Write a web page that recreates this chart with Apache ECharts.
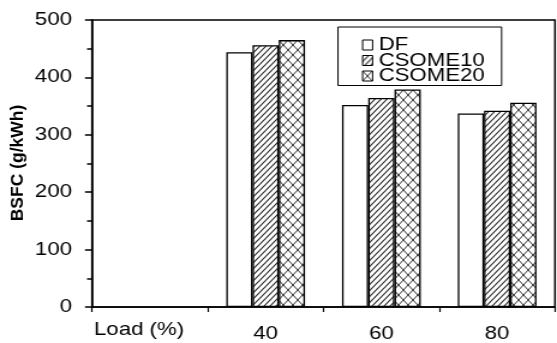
<!DOCTYPE html>
<html>
<head>
<meta charset="utf-8">
<script src="https://cdn.jsdelivr.net/npm/echarts@6/dist/echarts.min.js"></script>
<style>
  html, body { margin: 0; padding: 0; background: #fff; overflow: hidden; }
  #wrap { width: 557px; height: 343px; overflow: hidden; }
  /* the figure uses wide, horizontally stretched lettering: draw narrower and stretch */
  #chart { width: 464px; height: 343px; transform-origin: 0 0; }
</style>
</head>
<body>
<div id="wrap"><div id="chart"></div></div>
<script>
// Engine load categories (first slot is left empty on the axis)
const loads = ['', '40', '60', '80'];
// Brake specific fuel consumption, g/kWh
const dfValues = [null, 444, 352, 337];
const csome10Values = [null, 456, 364, 342];
const csome20Values = [null, 465, 379, 356];
const seriesNames = ['DF', 'CSOME10', 'CSOME20'];
const yTicks = [0, 100, 200, 300, 400, 500];

const W = 464, H = 343, SX = 557 / W;
const chartEl = document.getElementById('chart');
chartEl.style.transform = 'scaleX(' + SX + ')';

const FONT = "'Liberation Sans', Arial, Helvetica, sans-serif";
const FS = 18.5;

// single diagonal hatch "/"
function hatchTile() {
  const w = 5, h = 6;
  const c = document.createElement('canvas');
  c.width = w; c.height = h;
  const g = c.getContext('2d');
  g.fillStyle = '#fff'; g.fillRect(0, 0, w, h);
  g.strokeStyle = '#222'; g.lineWidth = 1.1;
  g.beginPath();
  g.moveTo(-w, 2 * h); g.lineTo(2 * w, -h);
  g.moveTo(-2 * w, 2 * h); g.lineTo(w, -h);
  g.moveTo(0, 2 * h); g.lineTo(3 * w, -h);
  g.stroke();
  return c;
}
// diagonal cross hatch "X"
function crossTile() {
  const w = 8, h = 10;
  const c = document.createElement('canvas');
  c.width = w; c.height = h;
  const g = c.getContext('2d');
  g.fillStyle = '#fff'; g.fillRect(0, 0, w, h);
  g.strokeStyle = '#333'; g.lineWidth = 1;
  g.beginPath();
  g.moveTo(-w, 2 * h); g.lineTo(2 * w, -h);
  g.moveTo(-w, -h); g.lineTo(2 * w, 2 * h);
  g.stroke();
  return c;
}

const fills = [
  '#ffffff',
  { image: hatchTile(), repeat: 'repeat' },
  { image: crossTile(), repeat: 'repeat' }
];
const values = [dfValues, csome10Values, csome20Values];

const chart = echarts.init(chartEl, null, { renderer: 'canvas', width: W, height: H });

chart.setOption({
  animation: false,
  backgroundColor: '#fff',
  textStyle: { fontFamily: FONT, color: '#000' },
  grid: {
    left: 92 / SX, right: W - 555 / SX, top: 20, bottom: 33,
    show: true, borderColor: '#000', borderWidth: 1.5, backgroundColor: 'transparent'
  },
  legend: {
    orient: 'vertical',
    left: 338 / SX, top: 27,
    padding: [8.5, 14, 0, 20],
    itemGap: -3.5,
    itemWidth: 10 / SX, itemHeight: 10,
    borderColor: '#000', borderWidth: 1,
    backgroundColor: '#fff',
    data: seriesNames,
    icon: 'rect',
    itemStyle: { borderColor: '#000', borderWidth: 1 },
    textStyle: { fontFamily: FONT, fontSize: FS, color: '#000' }
  },
  xAxis: {
    type: 'category',
    data: loads,
    boundaryGap: true,
    name: 'Load (%)',
    nameLocation: 'start',
    nameGap: -2 / SX,
    nameTextStyle: { fontFamily: FONT, fontSize: FS, color: '#000', align: 'left', verticalAlign: 'top', padding: [13.5, 0, 0, 0] },
    axisLine: { show: true, lineStyle: { color: '#000', width: 1.5 } },
    axisTick: { show: true, inside: false, length: 5, lineStyle: { color: '#000', width: 1.2 } },
    axisLabel: { margin: 17, fontFamily: FONT, fontSize: FS, color: '#000', interval: 0 },
    splitLine: { show: false }
  },
  yAxis: {
    type: 'value',
    min: yTicks[0], max: yTicks[yTicks.length - 1], interval: 100,
    axisLine: { show: true, lineStyle: { color: '#000', width: 1.5 } },
    axisTick: { show: true, inside: false, length: 7 / SX, lineStyle: { color: '#000', width: 1.5 } },
    minorTick: { show: true, splitNumber: 2, length: 5 / SX, lineStyle: { color: '#000', width: 1.5 } },
    axisLabel: { margin: 20 / SX, fontFamily: FONT, fontSize: FS, color: '#000' },
    splitLine: { show: false }
  },
  graphic: [{
    type: 'text',
    x: 18 / SX, y: 163,
    rotation: Math.PI / 2,
    scaleY: 1 / SX,
    style: {
      text: 'BSFC (g/kWh)',
      font: 'bold 17.5px ' + FONT,
      fill: '#000',
      align: 'center',
      verticalAlign: 'middle'
    }
  }],
  series: seriesNames.map((name, i) => ({
    name: name,
    type: 'bar',
    data: values[i],
    barGap: '0%',
    barCategoryGap: '32%',
    itemStyle: { color: fills[i], borderColor: '#000', borderWidth: 1.3 },
    emphasis: { disabled: true }
  }))
});
</script>
</body>
</html>
